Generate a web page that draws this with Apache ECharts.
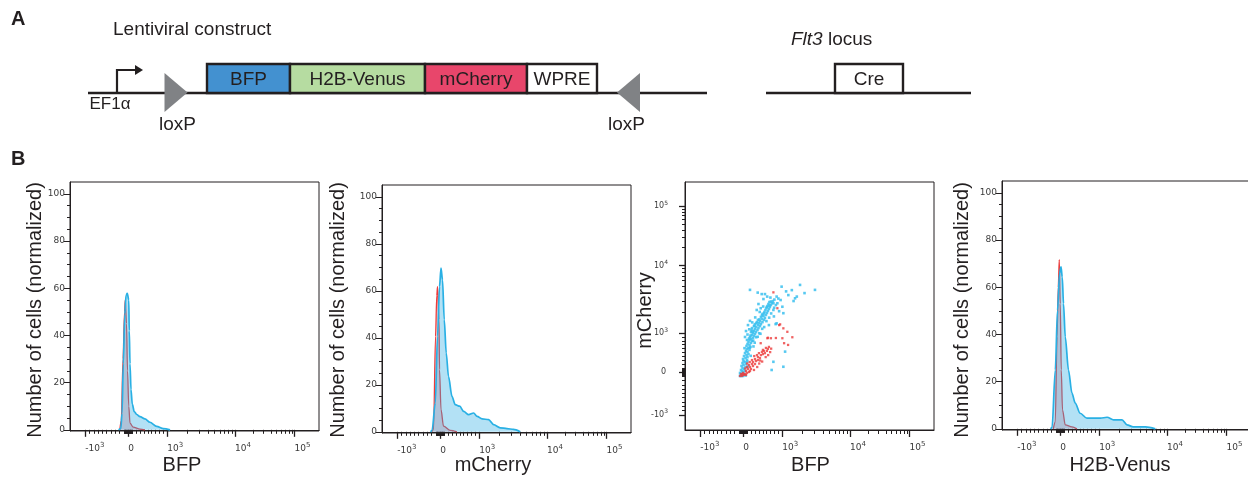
<!DOCTYPE html>
<html><head><meta charset="utf-8">
<script src="https://cdn.jsdelivr.net/npm/echarts@6/dist/echarts.min.js"></script>
<style>html,body{margin:0;padding:0;background:#fff}#c{width:1248px;height:479px}</style>
</head><body><div id="c"></div>
<script>
// ---------- Panel A (construct schematic, diagram units) ----------
const constructBackbone = [[88, 707], [766, 971]];
const partNames = ['BFP', 'H2B-Venus', 'mCherry', 'WPRE', 'Cre'];
const partStart = [207, 290, 425, 527, 835];
const partEnd   = [290, 425, 527, 597, 903];
const loxPSites = [176, 628.5];
const loxPOrient = [-90, 90];
const promoterSites = [117];

// ---------- Panel B (display units on biexponential axes) ----------
const majorFluor  = [-1000, 0, 1000, 10000, 100000];
const majorLabels = ['-10{s|3}', '0{s| }', '10{s|3}', '10{s|4}', '10{s|5}'];
const minorFluor  = [-900,-800,-700,-600,-500,-400,-300,-200,-100,-90,-80,-70,-60,-50,-40,-30,-20,-10,
  10,20,30,40,50,60,70,80,90,100,200,300,400,500,600,700,800,900,
  2000,3000,4000,5000,6000,7000,8000,9000,20000,30000,40000,50000,60000,70000,80000,90000];
const countMajor = [0, 20, 40, 60, 80, 100];
const countMinor = [5,10,15,25,30,35,45,50,55,65,70,75,85,90,95];

const histBFP_ctrl = [[20.0,0],[20.6,4],[21.3,30],[21.9,50],[22.2,55],[22.7,45],[23.1,25],[23.6,10],[24.1,2.8],[25.4,1.1],[28.1,0.3],[30.1,0]];
const histBFP_cre  = [[19.5,0],[20.4,0.5],[20.9,7],[21.4,28],[22.0,49],[22.5,57],[23.0,57.8],[23.6,55],[23.8,42],[24.1,28],[24.5,17],[25.0,11],[25.8,7.7],[26.8,6.5],[28.1,5.6],[30.1,4.6],[32.1,3.2],[34.8,1.5],[37.5,0.5],[40.2,0]];
const histMch_ctrl = [[20.0,0],[20.7,1],[21.5,40.6],[22.0,58],[22.3,61.8],[22.9,47.7],[23.1,26.4],[23.7,9.5],[24.7,2.4],[27.4,0.6],[30.1,0]];
const histMch_cre  = [[19.5,0],[20.1,0.5],[21.4,12.3],[22.3,40.6],[23.1,61.8],[23.7,69.6],[24.3,64.6],[25.0,47.7],[25.8,33.5],[26.7,23.6],[28.1,15.1],[29.4,11.6],[31.2,10.9],[32.8,8.7],[34.8,7.3],[36.8,8.0],[38.2,6.6],[40.2,5.5],[42.8,5.2],[44.8,3.1],[47.5,1.7],[50.2,1.4],[52.8,1.0],[55.5,0]];
const histVen_ctrl = [[20.6,0],[21.4,3],[22.1,39],[22.6,60],[23.0,71.7],[23.4,53],[23.8,25],[24.3,8],[25.4,1.7],[28.1,0.8],[30.1,0]];
const histVen_cre  = [[19.5,0],[20.1,0.5],[21.4,24.9],[22.3,50.3],[23.1,65.8],[23.7,68.6],[24.2,64.3],[24.7,53.1],[25.4,39.0],[26.7,24.9],[28.1,15.1],[29.4,10.9],[31.4,6.6],[34.1,4.5],[36.1,4.5],[39.5,4.5],[42.2,4.9],[44.8,3.8],[48.2,3.8],[50.2,1.7],[52.7,0.8],[57.6,0.8],[61.6,0]];

const scatterCre = [[22.1,21.8],[22.5,21.8],[22.9,22.2],[23.3,21.8],[22.5,22.6],[23.7,22.6],[22.1,23.0],[23.3,23.4],[22.9,23.8],[24.1,23.8],[22.5,24.2],[23.7,24.6],[23.1,25.0],[24.3,25.4],[22.7,25.8],[23.5,26.2],[24.5,26.6],[23.1,27.0],[24.1,27.4],[23.5,27.8],[24.9,28.2],[23.3,28.6],[24.3,29.0],[25.1,29.4],[23.7,29.8],[24.7,30.2],[25.5,30.6],[24.1,31.0],[25.1,31.5],[24.5,31.9],[25.9,32.3],[24.9,32.7],[25.5,33.1],[26.3,33.5],[24.7,33.9],[25.9,34.3],[25.1,34.7],[26.5,35.1],[25.5,35.5],[26.9,35.9],[24.9,36.3],[25.9,36.3],[26.5,36.7],[27.3,37.1],[26.1,37.5],[24.1,37.5],[27.7,37.9],[26.9,38.3],[28.1,38.7],[27.3,39.1],[26.5,39.5],[28.5,39.5],[24.5,39.9],[27.7,40.0],[29.1,40.3],[28.1,40.7],[26.9,41.1],[29.5,41.1],[28.5,41.5],[27.7,41.9],[30.1,41.9],[25.3,42.3],[29.3,42.3],[28.1,42.7],[30.5,42.7],[29.7,43.1],[28.9,43.5],[31.1,43.5],[30.1,43.9],[26.1,44.0],[31.7,44.4],[29.3,44.4],[30.9,44.8],[32.1,45.2],[30.5,45.6],[31.5,46.0],[32.5,46.4],[31.1,46.8],[32.9,47.2],[31.9,47.6],[33.3,48.0],[32.3,48.4],[33.7,48.8],[32.7,49.2],[34.1,49.6],[33.1,50.0],[34.5,50.4],[33.5,50.8],[34.9,51.2],[33.9,51.6],[35.3,52.0],
  [30.8,54.8],[32.1,54.8],[29.2,55.4],[26.1,56.5],[38.8,57.8],[36.8,53.8],[41.5,54.4],[44.2,53.1],[44.9,53.8],[46.2,58.5],[52.2,56.5],[28.8,48.4],[35.5,51.1],[35.5,48.4],[39.5,47.1],[36.8,43.0],[40.2,31.6],[35.5,27.5],[34.8,24.2],[39.5,25.5],[30.4,49.1],[37.1,51.1],[39.1,49.7],[36.4,42.7],[35.7,45.8],[33.7,42.3],[37.5,53.0],[31.5,52.8],[29.5,50.8],[27.4,36.0],[28.6,37.4],[29.8,39.0],[31.0,40.8],
  [23.9,33.0],[25.7,36.9],[26.3,38.1],[27.1,39.7],[25.1,38.5],[26.7,40.4],[27.9,42.0],[28.7,43.1],[29.9,44.6],[30.9,46.2],[31.7,47.0],[32.9,49.6],[33.9,50.2],[34.5,51.8],[35.9,52.6],[34.3,53.4],[33.0,53.8],[31.4,49.8],[30.0,47.6],[28.2,45.4],[27.0,43.4],[25.8,40.6],[26.0,33.2],[25.0,27.6],[24.4,22.0],[25.2,25.6],[26.4,29.9],[27.5,33.7],[28.0,35.2],[29.2,37.6],[30.3,38.8],[31.8,41.5],[32.7,43.9],[33.8,45.3],[34.6,47.0],[35.8,49.3],[36.5,50.4],[37.8,47.9],[38.4,52.4],[40.6,55.9],[42.9,56.4],[43.6,52.0],[48.0,55.2]];
const scatterCtrl = [[22.1,21.8],[22.9,21.8],[23.7,22.2],[22.5,22.6],[24.1,22.6],[24.9,23.0],[23.3,23.0],[25.7,23.4],[24.5,23.8],[25.3,24.6],[26.5,24.6],[24.9,25.4],[26.1,25.4],[27.3,25.8],[25.7,26.2],[26.9,26.6],[28.1,26.6],[27.3,27.4],[28.5,27.8],[26.9,28.2],[29.3,28.2],[28.1,28.6],[30.1,29.0],[29.3,29.4],[28.9,30.2],[30.5,30.2],[31.3,30.6],[29.7,31.0],[32.1,31.0],[30.9,31.5],[31.7,31.9],[32.9,31.9],[31.3,32.3],[33.3,32.7],[32.5,33.1],[33.7,33.5],[30.4,35.0],[33.1,37.0],[34.5,37.0],[39.1,37.0],[43.1,37.4],[41.1,39.6],[39.8,35.0],[37.1,49.1],[37.8,42.3],[35.5,55.5],[38.2,42.6],[36.5,37.1],[41.4,34.3],[39.5,41.0],[33.3,37.2],
  [23.1,22.4],[24.5,22.2],[26.1,23.8],[27.7,24.2],[29.0,25.4],[29.8,26.8],[31.0,27.6],[30.2,28.0],[32.4,29.4],[33.4,30.2],[34.2,31.4],[34.6,32.8],[27.8,29.8],[26.0,27.4],[25.0,26.8],[24.2,24.8]];

// ---------- axis transform (biexponential display) ----------
function T(v) {
  if (v >= -1000 && v <= 0) return 23.4 + v / 1000 * 17.3;
  if (v > 0 && v <= 1000) return 23.4 + v / 1000 * 15.7;
  if (v > 1000 && v <= 10000) return 39.1 + Math.log10(v / 1000) * 27.2;
  if (v > 10000) return 66.3 + Math.log10(v / 10000) * 23.9;
  return 6.1 - Math.log10(-v / 1000) * 27.2;
}
const majorPos = majorFluor.map(T);
const minorPos = minorFluor.map(T);

const INK = '#231f20';
const TICKFONT = 'DejaVu Sans';
const LABFONT = 'Liberation Sans, Arial, sans-serif';
const richSupX = {
  b: { fontSize: 9, fontFamily: TICKFONT, color: '#3a3a3a' },
  s: { fontSize: 7, fontFamily: TICKFONT, color: '#3a3a3a', padding: [0, 0, 7, 0] }
};
const richSupY = {
  b: { fontSize: 8, fontFamily: TICKFONT, color: '#3a3a3a' },
  s: { fontSize: 6, fontFamily: TICKFONT, color: '#3a3a3a', padding: [0, 0, 6, 0] }
};
function fluorFormatter(v) {
  const i = majorPos.findIndex(p => Math.abs(p - v) < 1e-6);
  if (i < 0) return '';
  return majorLabels[i].replace(/^([^{]+)/, '{b|$1}');
}
function fluorAxis(gridIndex, isY, minor) {
  return {
    type: 'value', gridIndex, min: 0, max: 100,
    position: isY ? 'left' : 'bottom',
    axisLine: { show: !minor, lineStyle: { color: INK, width: 1 } },
    axisTick: { show: true, inside: false, length: minor ? (isY ? 3 : 4) : (isY ? 6 : 7),
      customValues: minor ? minorPos : majorPos, lineStyle: { color: INK, width: minor ? 1 : 1.3 } },
    axisLabel: minor ? { show: false } : {
      show: true, customValues: majorPos, formatter: fluorFormatter, rich: isY ? richSupY : richSupX,
      margin: isY ? 17 : 11, align: isY ? 'right' : 'left'
    },
    splitLine: { show: false }
  };
}
function countAxis(gridIndex, minor) {
  return {
    type: 'value', gridIndex, min: -0.5, max: 105, position: 'left',
    axisLine: { show: !minor, lineStyle: { color: INK, width: 1 } },
    axisTick: { show: true, inside: false, length: minor ? 3 : 6,
      customValues: minor ? countMinor : countMajor, lineStyle: { color: INK, width: 1 } },
    axisLabel: minor ? { show: false } : {
      show: true, customValues: countMajor, margin: 5, fontSize: 9, fontFamily: TICKFONT, color: '#3a3a3a'
    },
    splitLine: { show: false }
  };
}

const plotGrid = (l, t, w, h) => ({ left: l, top: t, width: w, height: h, show: true,
  borderColor: INK, borderWidth: 1, backgroundColor: 'transparent', containLabel: false, outerBoundsMode: 'none' });

const grid = [
  plotGrid(70, 182, 249, 249),
  plotGrid(382, 185, 249, 248),
  plotGrid(685, 182, 249, 248),
  plotGrid(1002, 181, 249, 249),
  { left: 0, top: 0, width: 1248, height: 150, show: false, containLabel: false, outerBoundsMode: 'none' }
];
const xAxis = [
  fluorAxis(0, false, false), fluorAxis(0, false, true),
  fluorAxis(1, false, false), fluorAxis(1, false, true),
  fluorAxis(2, false, false), fluorAxis(2, false, true),
  fluorAxis(3, false, false), fluorAxis(3, false, true),
  { type: 'value', gridIndex: 4, min: 0, max: 1248, show: false }
];
const yAxis = [
  countAxis(0, false), countAxis(0, true),
  countAxis(1, false), countAxis(1, true),
  fluorAxis(2, true, false), fluorAxis(2, true, true),
  countAxis(3, false), countAxis(3, true),
  { type: 'value', gridIndex: 4, min: 0, max: 150, inverse: true, show: false }
];

const RED_LINE = '#ec3b3b', RED_FILL = 'rgba(225,80,90,0.38)';
const BLUE_LINE = '#29b0e4', BLUE_FILL = 'rgba(41,171,226,0.5)';
function hist(data, idx, isCre) {
  return {
    type: 'line', xAxisIndex: 2 * idx, yAxisIndex: 2 * idx, data, symbol: 'none',
    smooth: 0.3, smoothMonotone: 'x', clip: true, silent: true,
    lineStyle: { color: isCre ? BLUE_LINE : RED_LINE, width: isCre ? 1.7 : 1.3 },
    areaStyle: { color: isCre ? BLUE_FILL : RED_FILL, origin: 'auto' },
    z: isCre ? 3 : 2
  };
}

const boxFill = { 'BFP': '#4391d0', 'H2B-Venus': '#b6dca1', 'mCherry': '#e8466b', 'WPRE': '#ffffff', 'Cre': '#ffffff' };
const LINE_Y = 93, BOX_TOP = 64;

const series = [
  { type: 'custom', xAxisIndex: 8, yAxisIndex: 8, silent: true, z: 1,
    data: constructBackbone,
    renderItem: (p, api) => {
      const a = api.coord([api.value(0), LINE_Y]), b = api.coord([api.value(1), LINE_Y]);
      return { type: 'line', shape: { x1: a[0], y1: a[1], x2: b[0], y2: b[1] }, style: { stroke: INK, lineWidth: 2.6 } };
    } },
  { type: 'custom', xAxisIndex: 8, yAxisIndex: 8, silent: true, z: 2,
    data: partNames.map((n, i) => [partStart[i], partEnd[i], i]),
    renderItem: (p, api) => {
      const name = partNames[api.value(2)];
      const a = api.coord([api.value(0), BOX_TOP]), b = api.coord([api.value(1), LINE_Y]);
      return { type: 'group', children: [
        { type: 'rect', shape: { x: a[0], y: a[1], width: b[0] - a[0], height: b[1] - a[1] },
          style: { fill: boxFill[name], stroke: INK, lineWidth: 2.4 } },
        { type: 'text', style: { text: name, x: (a[0] + b[0]) / 2, y: (a[1] + b[1]) / 2 + 1, align: 'center', verticalAlign: 'middle',
          fontSize: 19, fontFamily: LABFONT, fill: INK } }
      ] };
    } },
  { type: 'scatter', xAxisIndex: 8, yAxisIndex: 8, silent: true, z: 3, symbol: 'triangle', symbolSize: [39, 23],
    itemStyle: { color: '#808285', opacity: 1 },
    data: loxPSites.map((x, i) => ({ value: [x, 92.5], symbolRotate: loxPOrient[i] })) },
  { type: 'custom', xAxisIndex: 8, yAxisIndex: 8, silent: true, z: 3,
    data: promoterSites.map(x => [x]),
    renderItem: (p, api) => {
      const base = api.coord([api.value(0), LINE_Y]);
      const top = api.coord([api.value(0), 70]);
      const tip = api.coord([api.value(0) + 26, 70]);
      return { type: 'group', children: [
        { type: 'polyline', shape: { points: [base, top, [tip[0] - 6, tip[1]]] }, style: { stroke: INK, lineWidth: 2.2, fill: null } },
        { type: 'polygon', shape: { points: [[tip[0] - 8, tip[1] - 5], [tip[0], tip[1]], [tip[0] - 8, tip[1] + 5]] }, style: { fill: INK } }
      ] };
    } },
  hist(histBFP_ctrl, 0, false), hist(histBFP_cre, 0, true),
  hist(histMch_ctrl, 1, false), hist(histMch_cre, 1, true),
  hist(histVen_ctrl, 3, false), hist(histVen_cre, 3, true),
  { type: 'scatter', xAxisIndex: 4, yAxisIndex: 4, data: scatterCre, symbol: 'rect', symbolSize: 2.6,
    itemStyle: { color: '#3abfee', opacity: 0.85 }, silent: true, z: 3 },
  { type: 'scatter', xAxisIndex: 4, yAxisIndex: 4, data: scatterCtrl, symbol: 'rect', symbolSize: 2.3,
    itemStyle: { color: '#ec3b3b', opacity: 0.8 }, silent: true, z: 4 }
];

function label(text, x, y, size, opts) {
  return Object.assign({ type: 'text', x, y, silent: true,
    style: { text, fontSize: size, fontFamily: LABFONT, fill: INK, align: 'center', verticalAlign: 'middle' } }, opts || {});
}
const V = Math.PI / 2;
const graphic = [
  label('A', 11, 19, 20, { style: { text: 'A', fontSize: 20, fontWeight: 'bold', fontFamily: LABFONT, fill: INK, align: 'left', verticalAlign: 'middle' } }),
  label('B', 11, 159, 20, { style: { text: 'B', fontSize: 20, fontWeight: 'bold', fontFamily: LABFONT, fill: INK, align: 'left', verticalAlign: 'middle' } }),
  label('Lentiviral construct', 113, 30, 19, { style: { text: 'Lentiviral construct', fontSize: 19, fontFamily: LABFONT, fill: INK, align: 'left', verticalAlign: 'middle' } }),
  label('EF1α', 110, 104, 17),
  label('loxP', 177.5, 125, 19),
  label('loxP', 626.5, 125, 19),
  { type: 'text', x: 791, y: 40, silent: true, style: { text: '{i|Flt3} locus', fontSize: 19, fontFamily: LABFONT, fill: INK,
      align: 'left', verticalAlign: 'middle', rich: { i: { fontStyle: 'italic', fontSize: 19, fontFamily: LABFONT, fill: INK } } } },
  label('Number of cells (normalized)', 35.5, 310, 20, { rotation: V }),
  label('Number of cells (normalized)', 338, 310, 20, { rotation: V }),
  label('Number of cells (normalized)', 962.5, 310, 20, { rotation: V }),
  label('mCherry', 645, 310.5, 20, { rotation: V }),
  label('BFP', 182, 465, 20),
  label('mCherry', 493, 465, 20),
  label('BFP', 810.5, 465, 20),
  label('H2B-Venus', 1120, 465, 20)
];

const chart = echarts.init(document.getElementById('c'), null, { renderer: 'canvas' });
chart.setOption({ animation: false, backgroundColor: '#ffffff', grid, xAxis, yAxis, series, graphic });
</script></body></html>
